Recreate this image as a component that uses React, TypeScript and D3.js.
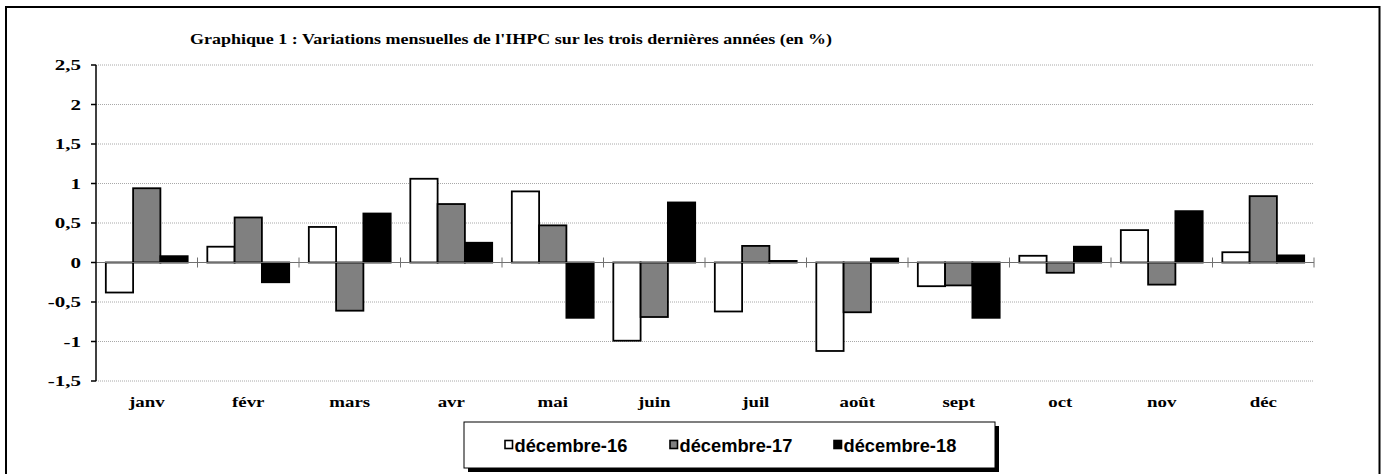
import React from "react";
import * as d3 from "d3";

const months = ["janv", "févr", "mars", "avr", "mai", "juin", "juil", "août", "sept", "oct", "nov", "déc"];
const seriesNames = ["décembre-16", "décembre-17", "décembre-18"];
const dec16 = [-0.38, 0.2, 0.45, 1.06, 0.9, -0.99, -0.62, -1.12, -0.3, 0.085, 0.41, 0.13];
const dec17 = [0.94, 0.57, -0.61, 0.74, 0.47, -0.69, 0.21, -0.63, -0.29, -0.13, -0.28, 0.84];
const dec18 = [0.08, -0.25, 0.62, 0.25, -0.7, 0.76, 0.02, 0.05, -0.7, 0.2, 0.65, 0.09];
const yTicks = [-1.5, -1, -0.5, 0, 0.5, 1, 1.5, 2, 2.5];
const yTickLabels = ["-1,5", "-1", "-0,5", "0", "0,5", "1", "1,5", "2", "2,5"];
const title = "Graphique 1 : Variations mensuelles de l'IHPC sur les trois dernières années (en %)";

const fills = ["#ffffff", "#808080", "#000000"];

const W = 1385;
const H = 474;
const plot = { left: 96, right: 1314, top: 65, bottom: 381 };
const SERIF = "'Liberation Serif', 'Times New Roman', serif";
const SANS = "'Liberation Sans', Arial, sans-serif";

export default function App() {
  const data = [dec16, dec17, dec18];
  const y = d3.scaleLinear().domain([-1.5, 2.5]).range([plot.bottom, plot.top]);
  const x0 = d3.scaleBand<string>().domain(months).range([plot.left, plot.right]).padding(0);
  const x1 = d3
    .scaleBand<string>()
    .domain(seriesNames)
    .range([0, x0.step()])
    .paddingInner(0)
    .paddingOuter(0.36);
  const y0 = y(0);

  const legendX = 464;
  const legendY = 422;
  const legendW = 531;
  const legendH = 46;
  const legendItemX = [505, 670, 834];

  return (
    <div style={{ position: "absolute", left: 0, top: 0 }}>
      <svg width={W} height={H} style={{ display: "block", background: "#fff" }}>
        <rect x={6} y={7} width={1373.5} height={500} fill="#fff" stroke="#000" strokeWidth={2} />
        <text
          transform={`translate(190,43.5) scale(1.16,1)`}
          fontFamily={SERIF}
          fontWeight="bold"
          fontSize={15.5}
          fill="#000"
        >
          {title}
        </text>
        {/* gridlines */}
        {yTicks.map((t) =>
          t === 0 ? null : (
            <line
              key={"g" + t}
              x1={plot.left}
              x2={plot.right}
              y1={y(t)}
              y2={y(t)}
              stroke="#a8a8a8"
              strokeWidth={1}
              strokeDasharray="1 1"
            />
          )
        )}
        {/* bars */}
        {months.map((m, i) => (
          <g key={m} transform={`translate(${x0(m)},0)`}>
            {seriesNames.map((s, k) => {
              const v = data[k][i];
              const yt = y(Math.max(0, v));
              const yb = y(Math.min(0, v));
              return (
                <rect
                  key={s}
                  x={x1(s)}
                  y={yt}
                  width={x1.bandwidth()}
                  height={Math.max(0.5, yb - yt)}
                  fill={fills[k]}
                  stroke="#000"
                  strokeWidth={1.8}
                />
              );
            })}
          </g>
        ))}
        {/* zero line */}
        <line x1={plot.left} x2={plot.right} y1={y0} y2={y0} stroke="#707070" strokeWidth={1} />
        {months.map((m) => (
          <line
            key={"t" + m}
            x1={(x0(m) as number) + x0.step()}
            x2={(x0(m) as number) + x0.step()}
            y1={y0 - 5}
            y2={y0 + 5}
            stroke="#707070"
            strokeWidth={1}
          />
        ))}
        {/* y axis */}
        <line x1={plot.left} x2={plot.left} y1={plot.top} y2={plot.bottom} stroke="#000" strokeWidth={1.5} />
        {yTicks.map((t, i) => (
          <g key={"y" + t}>
            <line x1={plot.left - 5} x2={plot.left} y1={y(t)} y2={y(t)} stroke="#000" strokeWidth={1.5} />
            <text
              transform={`translate(81,${y(t) + 5}) scale(1.4,1)`}
              textAnchor="end"
              fontFamily={SERIF}
              fontWeight="bold"
              fontSize={15}
            >
              {yTickLabels[i]}
            </text>
          </g>
        ))}
        {/* x labels */}
        {months.map((m) => (
          <text
            key={"x" + m}
            transform={`translate(${(x0(m) as number) + x0.step() / 2},407) scale(1.3,1)`}
            textAnchor="middle"
            fontFamily={SERIF}
            fontWeight="bold"
            fontSize={14.5}
          >
            {m}
          </text>
        ))}
        {/* legend */}
        <rect x={legendX + 4} y={legendY + 4} width={legendW} height={legendH} fill="#000" />
        <rect x={legendX} y={legendY} width={legendW} height={legendH} fill="#fff" stroke="#000" strokeWidth={1} />
        {seriesNames.map((s, k) => (
          <g key={"l" + s}>
            <rect x={legendItemX[k]} y={440.5} width={7.5} height={8} fill={fills[k]} stroke="#000" strokeWidth={1.6} />
            <text x={legendItemX[k] + 9.5} y={451.5} fontFamily={SANS} fontWeight="bold" fontSize={18.3}>
              {s}
            </text>
          </g>
        ))}
      </svg>
    </div>
  );
}
